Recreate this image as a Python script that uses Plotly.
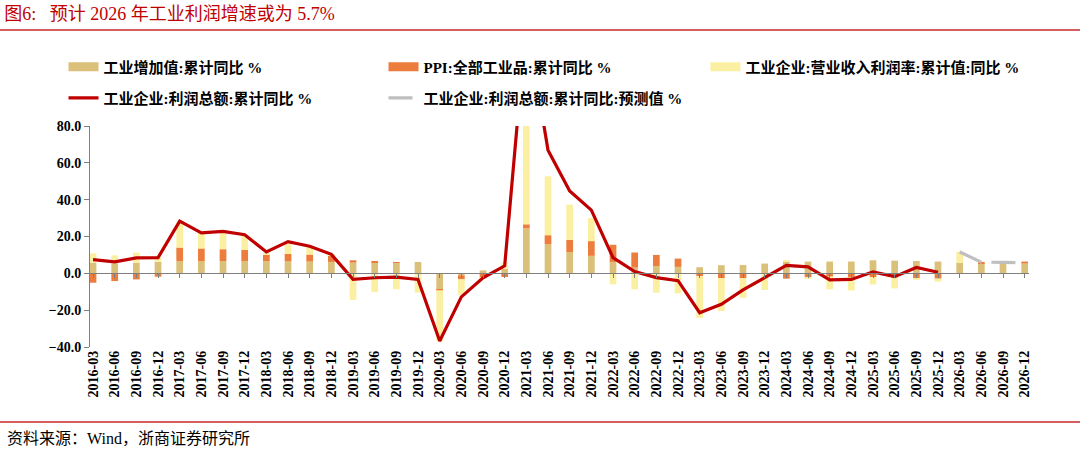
import plotly.graph_objects as go

# 季度:2016-03 ~ 2026-12
categories = [f"{y}-{m}" for y in range(2016, 2027) for m in ("03", "06", "09", "12")]

# 工业增加值:累计同比 %
iva = [5.8, 5.5, 5.8, 6.2, 6.7, 6.7, 6.7, 6.7, 6.7, 6.7, 6.4, 6.2,
       5.8, 5.8, 5.8, 6.2, -8.7, -1.1, 1.6, 2.5, 24.4, 15.8, 11.6, 9.5,
       6.2, 3.1, 4.0, 3.5, 3.3, 4.4, 4.5, 5.3, 6.4, 6.4, 6.4, 6.4,
       7.1, 6.9, 6.7, 6.4, 5.8, 5.3, 5.3, 5.3]

# PPI:全部工业品:累计同比 %
ppi = [-5.1, -4.2, -3.3, -1.8, 7.3, 6.8, 6.4, 6.0, 3.7, 3.8, 3.8, 3.6,
       1.3, 0.7, 0.2, -0.3, -0.5, -2.2, -2.4, -2.0, 2.2, 4.9, 6.6, 8.0,
       9.3, 8.2, 6.0, 4.5, -1.6, -2.7, -2.7, -0.3, -2.9, -2.2, -1.8, -2.0,
       -2.0, -2.2, -2.7, -2.9, 0.0, 0.9, 0.4, 1.1]

# 工业企业:营业收入利润率:累计值:同比 %
margin = [5.1, 4.3, 5.5, 2.4, 13.6, 8.3, 9.4, 8.0, 0.5, 5.9, 4.3, 0.5,
          -14.5, -10.2, -8.7, -10.2, -27.7, -8.2, -0.5, 3.3, 110.7, 32.0, 19.1, 12.5,
          -6.0, -8.7, -10.5, -10.9, -22.6, -17.8, -10.6, -8.7, 0.3, -0.5, -6.9, -7.3,
          -4.0, -6.0, -0.6, -1.6, 6.0, 0.0, 0.0, 0.0]

# 工业企业:利润总额:累计同比 %
profit = [7.4, 6.2, 8.4, 8.5, 28.3, 22.0, 22.8, 21.0, 11.6, 17.2, 14.7, 10.3,
          -3.3, -2.4, -2.1, -3.3, -36.7, -12.8, -2.4, 4.1, 137.3, 66.9, 44.7, 34.3,
          8.5, 1.0, -2.3, -4.0, -21.4, -16.8, -9.0, -2.3, 4.3, 3.5, -3.5, -3.3,
          0.8, -1.8, 3.2, 0.6, None, None, None, None]

# 工业企业:利润总额:累计同比:预测值 %
forecast = [None] * 40 + [11.6, 6.1, 5.9, 5.7]

FONT = "Liberation Serif, Noto Sans CJK SC"
C_IVA = "#DBC079"
C_PPI = "#ED7D3D"
C_MARGIN = "#FBF0A2"
C_PROFIT = "#C00000"
C_FC = "#BFBFBF"

bars = [
    ("工业增加值:累计同比 %", iva, C_IVA, "legend"),
    ("PPI:全部工业品:累计同比 %", ppi, C_PPI, "legend"),
    ("工业企业:营业收入利润率:累计值:同比 %", margin, C_MARGIN, "legend3"),
]

fig = go.Figure()
for name, vals, col, lg in bars:
    fig.add_trace(go.Bar(x=categories, y=vals, name=name, marker_color=col,
                         marker_line_width=0, legendgroup=name, showlegend=False))

fig.add_trace(go.Scatter(x=categories, y=profit, mode="lines", name="工业企业:利润总额:累计同比 %",
                         line=dict(color=C_PROFIT, width=3.2), legend="legend2"))
fig.add_trace(go.Scatter(x=categories, y=forecast, mode="lines", name="工业企业:利润总额:累计同比:预测值 %",
                         line=dict(color=C_FC, width=3.2, dash="24px,10px"), legend="legend2"))

# 图例用的宽色块
for name, vals, col, lg in bars:
    fig.add_trace(go.Scatter(x=[None], y=[None], mode="lines", name=name, legendgroup=name,
                             line=dict(color=col, width=9), legend=lg))

# 零轴(带刻度)
fig.add_trace(go.Scatter(x=categories, y=[None] * len(categories), xaxis="x2",
                         showlegend=False, hoverinfo="skip"))

legend_font = dict(family=FONT, size=15, color="black", weight="bold")


def make_legend(x, y):
    return dict(orientation="h", xref="container", yref="container",
                x=x, xanchor="left", y=y, yanchor="middle",
                entrywidth=275, entrywidthmode="pixels", font=legend_font,
                bgcolor="rgba(0,0,0,0)")


fig.update_layout(
    width=1080, height=456,
    margin=dict(l=90, r=51, t=126, b=109),
    paper_bgcolor="white", plot_bgcolor="white",
    barmode="relative", bargap=0.69,
    title=dict(text="图6:   预计 2026 年工业利润增速或为 5.7%", x=0.004, xanchor="left",
               y=0.971, yanchor="middle",
               font=dict(family=FONT, size=18, color="#C00000")),
    legend=make_legend(0.0588, 0.853),
    legend3=make_legend(0.6532, 0.853),
    legend2=make_legend(0.0588, 0.785),
    xaxis=dict(type="category", range=[-0.14, 43.2], showline=False, ticks="",
               tickangle=-90, showgrid=False, automargin=False,
               tickfont=dict(family=FONT, size=14, color="black", weight="bold")),
    xaxis2=dict(type="category", overlaying="x", matches="x", anchor="free", position=1 / 3,
                showline=True, linecolor="#7F7F7F", linewidth=1, ticks="outside",
                ticklen=4, tickcolor="#7F7F7F", showticklabels=False, showgrid=False),
    yaxis=dict(range=[-40, 80], dtick=20, tickformat=".1f", showgrid=False, zeroline=False,
               showline=True, linecolor="#7F7F7F", linewidth=1, ticks="outside", ticklen=5,
               tickcolor="#7F7F7F", automargin=False,
               tickfont=dict(family=FONT, size=14, color="black", weight="bold")),
    shapes=[
        dict(type="line", xref="paper", yref="paper", x0=-0.096, x1=1.055, y0=1.434, y1=1.434,
             line=dict(color="#C8282D", width=1.5)),
        dict(type="line", xref="paper", yref="paper", x0=-0.096, x1=1.055, y0=-0.339, y1=-0.339,
             line=dict(color="#C8282D", width=1.5)),
    ],
    annotations=[
        dict(text="资料来源：Wind，浙商证券研究所", xref="paper", yref="paper", x=-0.091, y=-0.412,
             xanchor="left", yanchor="middle", showarrow=False,
             font=dict(family=FONT, size=16, color="black")),
    ],
)

# 页面默认有 8px 边距,去掉让图刚好铺满窗口
fig.write_html("out.html", config={"displayModeBar": False},
               post_script="document.body.style.margin='0px';")
